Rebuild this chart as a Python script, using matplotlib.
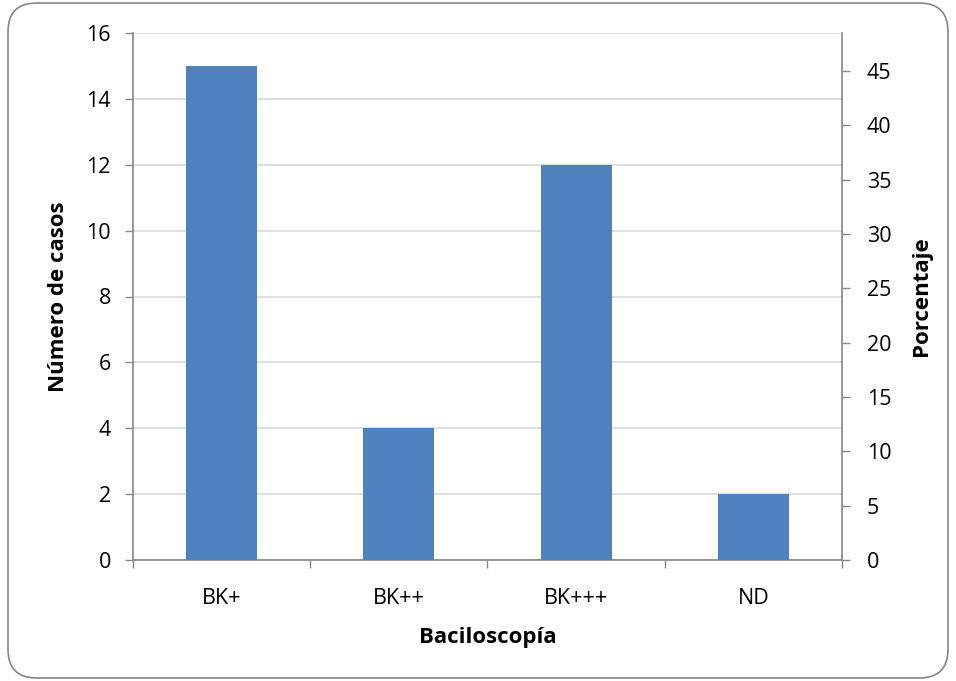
import matplotlib
matplotlib.use("Agg")
import matplotlib.pyplot as plt
from matplotlib.patches import FancyBboxPatch

# data
categories = ["BK+", "BK++", "BK+++", "ND"]
cases = [15, 4, 12, 2]
total_cases = sum(cases)
left_ticks = list(range(0, 17, 2))
right_ticks = list(range(0, 46, 5))

BAR = "#4f81bd"
AXIS = "#868686"
GRID = "#d9d9d9"

plt.rcParams["font.family"] = ["Open Sans", "DejaVu Sans"]

fig = plt.figure(figsize=(9.56, 6.81), dpi=100)
ax = fig.add_axes([133 / 956, 1 - 560 / 681, (842 - 133) / 956, (560 - 33) / 681])

# rounded chart frame
frame = FancyBboxPatch((8 / 956, 3 / 681), 940 / 956, 675 / 681,
                       boxstyle="round,pad=0,rounding_size=0.03",
                       transform=fig.transFigure, fc="none", ec=AXIS, lw=1.2,
                       mutation_aspect=956 / 681, zorder=0)
fig.patches.append(frame)

x = list(range(len(categories)))
ax.bar(x, cases, width=0.4, color=BAR, zorder=3)
ax.set_xlim(-0.5, len(categories) - 0.5)
ax.set_ylim(0, 16)
ax.set_yticks(left_ticks)
ax.yaxis.grid(True, color=GRID, lw=1.2, zorder=0)
ax.set_axisbelow(True)

ax.set_xticks(x)
ax.set_xticklabels(categories, fontsize=15.5)
ax.set_xticks([i - 0.5 for i in range(len(categories) + 1)], minor=True)
ax.tick_params(axis="x", which="major", length=0, pad=20)
ax.tick_params(axis="x", which="minor", length=6, width=1, color=AXIS, direction="out")
ax.tick_params(axis="y", labelsize=15.5, length=6, width=1, color=AXIS, direction="out", pad=10)

for side in ["top", "right"]:
    ax.spines[side].set_visible(False)
for side in ["left", "bottom"]:
    ax.spines[side].set_color(AXIS)
    ax.spines[side].set_linewidth(1.2)

ax.set_ylabel("Número de casos", fontsize=16, fontweight="bold", labelpad=12)
ax.set_xlabel("Baciloscopía", fontsize=16, fontweight="bold", labelpad=13)

# secondary axis: percentage of total cases
ax2 = ax.twinx()
ax2.set_ylim(0, 16 / total_cases * 100)
ax2.set_yticks(right_ticks)
ax2.tick_params(axis="y", labelsize=15.5, length=6, width=1, color=AXIS, direction="out", pad=12)
for side in ["top", "left", "bottom"]:
    ax2.spines[side].set_visible(False)
ax2.spines["right"].set_color(AXIS)
ax2.spines["right"].set_linewidth(1.2)
ax2.set_ylabel("Porcentaje", fontsize=16, fontweight="bold", labelpad=14)

fig.savefig("out.png", dpi=100)
